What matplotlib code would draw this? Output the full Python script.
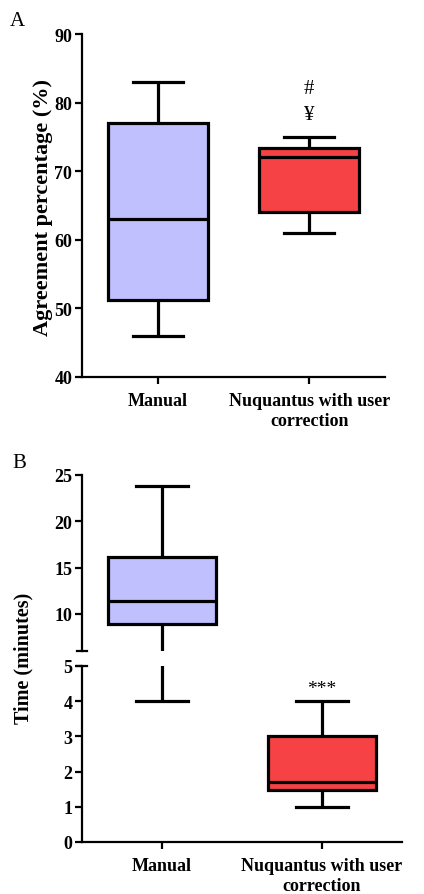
import matplotlib
matplotlib.use("Agg")
import matplotlib.pyplot as plt
from matplotlib.lines import Line2D

plt.rcParams['font.family'] = ['Liberation Serif', 'DejaVu Serif']

categories = ["Manual", "Nuquantus with user\ncorrection"]
colors = ["#C0C0FF", "#F64244"]

# Panel A: agreement percentage (whislo, q1, med, q3, whishi)
agree_min = [46, 61]
agree_q1 = [51.2, 64]
agree_med = [63, 72]
agree_q3 = [77, 73.4]
agree_max = [83, 75]

# Panel B: time in minutes
time_min = [4, 1]
time_q1 = [8.9, 1.47]
time_med = [11.4, 1.7]
time_q3 = [16.2, 3.0]
time_max = [23.8, 4.0]

W, H = 424, 895
fig = plt.figure(figsize=(W / 100, H / 100), dpi=100)

def px_axes(l, t, r, b):
    return fig.add_axes([l / W, 1 - b / H, (r - l) / W, (b - t) / H])

LW = 2.3
SPW = 1.6
TFS = 13

def stats(mins, q1s, meds, q3s, maxs):
    out = []
    for a, b, c, d, e in zip(mins, q1s, meds, q3s, maxs):
        out.append(dict(whislo=a, q1=b, med=c, q3=d, whishi=e, fliers=[]))
    return out

def draw(ax, st, width):
    bp = ax.bxp(st, positions=[1, 2], widths=width, patch_artist=True,
                showfliers=False,
                boxprops=dict(linewidth=LW, edgecolor='black'),
                medianprops=dict(color='black', linewidth=LW),
                whiskerprops=dict(color='black', linewidth=LW, solid_capstyle='butt'),
                capprops=dict(color='black', linewidth=LW),
                capwidths=0.33)
    for patch, c in zip(bp['boxes'], colors):
        patch.set_facecolor(c)
        patch.set_joinstyle('miter')
    return bp

def style(ax):
    for s in ['top', 'right']:
        ax.spines[s].set_visible(False)
    for s in ['left', 'bottom']:
        ax.spines[s].set_linewidth(SPW)
    ax.tick_params(width=SPW, length=5, direction='out')
    ax.tick_params(axis='y', pad=2)
    ax.tick_params(axis='x', pad=6)

def fonts(ax):
    for lab in ax.get_yticklabels() + ax.get_xticklabels():
        lab.set_fontweight('bold')
        lab.set_fontsize(TFS)
        lab.set_linespacing(1.2)

# ---------- Panel A ----------
axA = px_axes(82, 35, 385, 378)
draw(axA, stats(agree_min, agree_q1, agree_med, agree_q3, agree_max), 0.66)
axA.set_xlim(0.5, 2.5)
axA.set_ylim(40, 90)
axA.set_yticks([40, 50, 60, 70, 80, 90])
axA.set_xticks([1, 2])
axA.set_xticklabels(categories)
style(axA)
fonts(axA)
fig.text(43 / W, 1 - 207 / H, "Agreement percentage (%)", rotation=90, fontsize=16,
         fontweight='bold', ha='center', va='center')
axA.text(2, 82.0, "#", ha='center', va='center', fontsize=15)
axA.text(2, 78.3, "¥", ha='center', va='center', fontsize=15)
fig.text(17 / W, 1 - 22 / H, "A", fontsize=15, ha='center', va='center')

# ---------- Panel B ----------
st = stats(time_min, time_q1, time_med, time_q3, time_max)
axBt = px_axes(82, 476, 402, 652)
axBb = px_axes(82, 667, 402, 843)
for ax in (axBt, axBb):
    draw(ax, st, 0.67)
    ax.set_xlim(0.5, 2.5)
    style(ax)
axBt.set_ylim(6, 25)
axBt.set_yticks([10, 15, 20, 25])
axBt.spines['bottom'].set_visible(False)
axBt.set_xticks([])
axBb.set_ylim(0, 5)
axBb.set_yticks([0, 1, 2, 3, 4, 5])
axBb.set_xticks([1, 2])
axBb.set_xticklabels(categories)
fonts(axBt)
fonts(axBb)

# break caps on the y axis
for ax, yv in ((axBt, 0.0), (axBb, 1.0)):
    x0 = -5 / (402 - 82)
    x1 = 5 / (402 - 82)
    ax.add_line(Line2D([x0, x1], [yv, yv], transform=ax.transAxes,
                       color='black', linewidth=SPW, clip_on=False))

axBb.text(2, 4.36, "***", ha='center', va='center', fontsize=14)
fig.text(23 / W, 1 - 658 / H, "Time (minutes)", rotation=90, fontsize=14.5,
         fontweight='bold', ha='center', va='center')
fig.text(19 / W, 1 - 464 / H, "B", fontsize=15, ha='center', va='center')

fig.savefig("out.png", dpi=100)
